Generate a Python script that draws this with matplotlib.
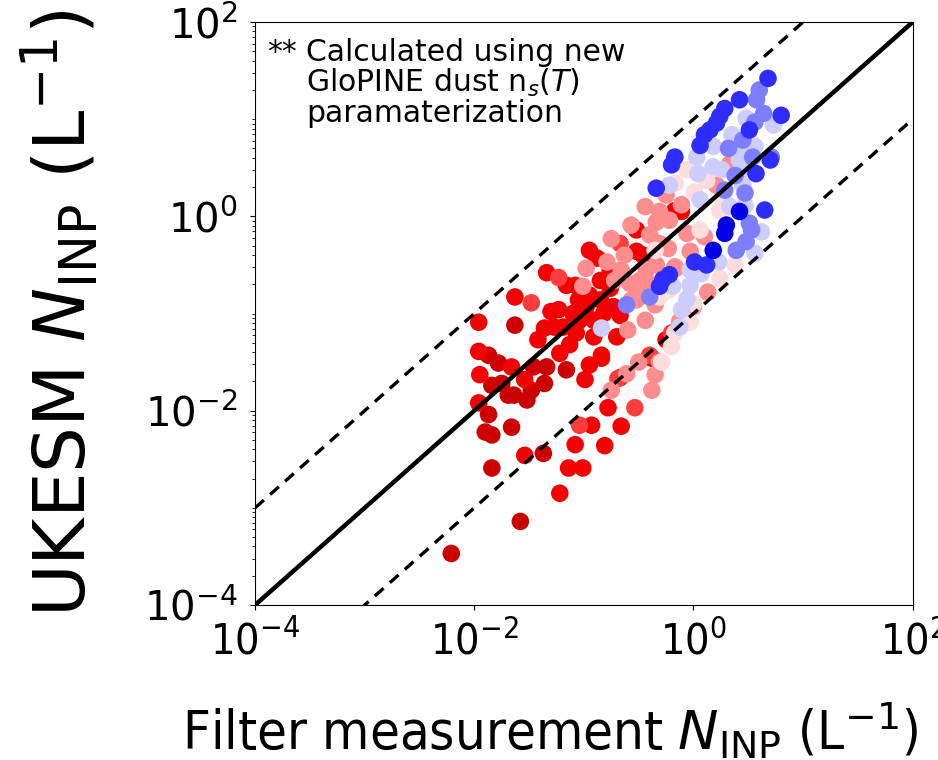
import matplotlib
matplotlib.use("Agg")
import matplotlib.pyplot as plt
from matplotlib.ticker import LogLocator, NullLocator, NullFormatter, LogFormatterMathtext
import numpy as np

# log10 of filter N_INP (x) and UKESM N_INP (y), grouped by temperature (degC)
temps = [-12, -14, -16, -18, -20, -22, -24, -26, -28]

filt_m12 = [-1.63, -1.87, -1.78, -1.84, -1.75, -1.69, -1.64, -1.52, -1.87, -1.90, -1.84,
            -1.66, -1.84, -1.37, -1.58, -2.21, -1.46, -1.34, -1.16, -1.36, -1.48]
ukesm_m12 = [-1.12, -1.43, -1.51, -1.74, -1.72, -1.84, -1.84, -1.89, -2.04, -2.22, -2.25,
             -2.17, -2.59, -2.44, -3.14, -3.47, -1.55, -1.55, -1.58, -1.72, -1.79]

filt_m14 = [-1.34, -1.63, -1.30, -1.96, -1.36, -1.27, -1.10, -1.96, -1.66, -1.95, -1.54,
            -1.96, -1.22, -1.54, -1.08, -1.14, -1.01, -1.22, -0.81, -0.93, -0.66, -0.78,
            -0.67, -0.99, -0.84, -0.38, -0.25, -0.95, -0.88, -1.16, -1.08, -0.85, -0.76,
            -1.05, -0.98, -0.85, -0.73, -0.67, -0.82, -0.91, -1.04, -1.19, -0.70, -1.07,
            -0.91, -0.84, -0.52, -0.11, -0.52, -0.46, -0.17, -1.42, -1.13, -0.95,
            -0.76, -0.95, -1.23]
ukesm_m14 = [-0.58, -0.83, -0.98, -1.09, -1.15, -1.14, -1.00, -1.39, -1.55, -1.63, -1.68,
             -1.92, -1.41, -2.46, -2.35, -2.59, -2.59, -2.85, -2.36, -2.15, -2.16, -1.97,
             -1.66, -1.68, -1.46, -1.46, -1.27, -0.35, -0.43, -0.71, -0.71, -0.66, -0.74,
             -0.86, -0.93, -0.86, -0.93, -1.02, -1.00, -1.07, -1.07, -1.14, -1.24, -1.20,
             -1.24, -1.43, -0.14, 0.05, -0.36, -0.40, 0.06, -1.27, -1.32, -1.53,
             -0.55, -0.81, -0.96]

filt_m16 = [-1.23, -1.48, -0.535, -0.67, -1.04, -0.40, -0.20, -0.69]
ukesm_m16 = [-0.63, -0.89, -1.97, -0.28, -2.15, -1.43, -1.20, -1.67]

filt_m18 = [-0.75, -0.61, -0.50, -0.35, -0.38, -0.09, 0.00, -0.125, -0.31, -0.16, -0.03,
            0.10, -0.06, 0.13, 0.33, 0.21, -0.25, -0.44, -0.31, -0.11, -0.57, -0.34, -0.22,
            -0.75, -0.40, -0.31, -0.23, -0.98, -0.79, -0.66, -0.43, -0.49, -0.34, -0.17,
            -1.01, -0.58, -0.49, -0.52, -0.565, -0.43, -0.63, -0.72, -0.35, -0.44, -0.60]
ukesm_m18 = [-1.79, -1.62, -1.50, -1.63, -1.79, -1.10, -0.93, -1.08, -1.50, -0.535, -0.36,
             -0.21, -0.175, -0.78, 0.54, 0.32, 0.22, 0.10, 0.05, 0.12, -0.09, -0.06, -0.04,
             -0.23, -0.19, -0.28, -0.33, -0.535, -0.47, -0.55, -0.55, -0.66, -0.50, -0.52,
             -0.72, -0.69, -0.76, -0.86, -0.86, -0.66, -0.40, -0.66, -0.91, -1.07, -1.17]

filt_m20 = [-0.20, -0.17, -0.29, 0.38, 0.24, -0.23, 0.51, -0.06, -0.17, 0.01, 0.12, 0.27,
            0.24, -0.31, 0.00, -0.03, 0.06, -0.35]
ukesm_m20 = [-1.34, -1.20, -1.50, -0.50, -0.64, -0.76, 0.785, 0.48, 0.34, 0.25, 0.37, 0.17,
             0.06, -0.83, -0.90, -1.09, -0.14, -0.35]

filt_m22 = [0.62, 0.56, 0.23, 0.07, -0.03, -0.06, -0.11, 0.73, 0.48, 0.35, 0.56, 0.42, 0.18,
            0.03, 0.18, 0.255, 0.42, 0.44, 0.33, 0.04, -0.22, -0.125, -0.84, 0.45, -0.19,
            0.06, 0.47, -0.03]
ukesm_m22 = [-0.16, -0.38, -0.47, -0.59, -0.71, -0.85, -0.96, 0.94, 1.01, 0.84, 0.72, 0.65,
             0.72, 0.61, 0.51, 0.48, 0.58, 0.48, 0.10, 0.44, 0.32, -1.14, -1.15, 0.32, -0.72,
             0.17, 0.11, -0.55]

filt_m24 = [0.53, 0.48, 0.39, -0.40, 0.60, 0.575, 0.64, 0.56, 0.45, 0.54, 0.32, 0.47, 0.71,
            0.51, -0.61, 0.38, 0.285]
ukesm_m24 = [-0.14, -0.26, -0.35, -0.83, 1.30, 1.20, 1.06, 0.97, 0.785, 0.61, 0.70, 0.24,
             0.61, -0.07, -0.91, 0.42, 0.27]

filt_m26 = [0.65, 0.01, 0.12, -0.22, -0.31, 0.68, 0.80, 0.285, 0.24, 0.21, 0.15, 0.10, 0.06,
            0.51, -0.17, -0.20, 0.57, -0.34, -0.28, 0.42, 0.70]
ukesm_m26 = [0.065, -0.47, -0.50, -0.60, -0.72, 1.42, 1.04, 1.11, 1.03, 0.96, 0.89, 0.84,
             0.73, 0.89, 0.61, 0.53, 0.44, 0.29, -0.65, 1.20, 0.58]

filt_m28 = [0.42, 0.30, 0.285, 0.18]
ukesm_m28 = [0.05, -0.09, -0.175, -0.35]

filt_groups = [filt_m12, filt_m14, filt_m16, filt_m18, filt_m20, filt_m22, filt_m24, filt_m26, filt_m28]
ukesm_groups = [ukesm_m12, ukesm_m14, ukesm_m16, ukesm_m18, ukesm_m20, ukesm_m22, ukesm_m24, ukesm_m26, ukesm_m28]

fig = plt.figure(figsize=(9.38, 7.6), dpi=100)
ax = fig.add_axes([0.272, 0.204, 0.701, 0.767])

x_all, y_all, t_all = [], [], []
for T, fx, uy in zip(temps, filt_groups, ukesm_groups):
    x_all += list(10 ** np.array(fx))
    y_all += list(10 ** np.array(uy))
    t_all += [T] * len(fx)

ax.scatter(x_all, y_all, c=t_all, cmap="seismic", vmin=-33.4, vmax=-8.2,
           s=160, linewidths=0, zorder=2)

lims = np.array([1e-4, 1e2])
ax.plot(lims, lims, color="k", lw=3.2, zorder=3)
ax.plot(lims, lims * 10, color="k", lw=2.4, ls=(0, (3.5, 2.5)), zorder=3)
ax.plot(lims, lims / 10, color="k", lw=2.4, ls=(0, (3.5, 2.5)), zorder=3)

ax.set_xscale("log")
ax.set_yscale("log")
ax.set_xlim(1e-4, 1e2)
ax.set_ylim(1e-4, 1e2)
ax.set_xticks([1e-4, 1e-2, 1e0, 1e2])
ax.set_yticks([1e-4, 1e-2, 1e0, 1e2])
ax.xaxis.set_minor_locator(NullLocator())
ax.yaxis.set_minor_locator(LogLocator(base=10, subs=np.arange(1, 10), numticks=50))
ax.yaxis.set_minor_formatter(NullFormatter())
ax.yaxis.set_major_formatter(LogFormatterMathtext())
ax.xaxis.set_major_formatter(LogFormatterMathtext())
ax.tick_params(axis="y", labelsize=29, pad=9)
ax.tick_params(axis="x", labelsize=31, pad=8)
for lab in ax.get_xticklabels():
    lab.set_fontstretch("condensed")

ax.set_ylabel(r"UKESM $N_{\mathrm{INP}}$ (L$^{-1}$)", fontsize=52)
ax.yaxis.set_label_coords(-0.235, 0.5)
ax.set_xlabel(r"Filter measurement $N_{\mathrm{INP}}$ (L$^{-1}$)", fontsize=39,
              fontstretch="condensed")
ax.xaxis.set_label_coords(0.448, -0.165)

ax.text(0.018, 0.972, "**", transform=ax.transAxes, fontsize=21.5, va="top", ha="left")
ax.text(0.078, 0.972, "Calculated using new\nGloPINE dust n$_s$($T$)\nparamaterization",
        transform=ax.transAxes, fontsize=21.5, va="top", ha="left", linespacing=1.0)

fig.savefig("out.png", dpi=100)
